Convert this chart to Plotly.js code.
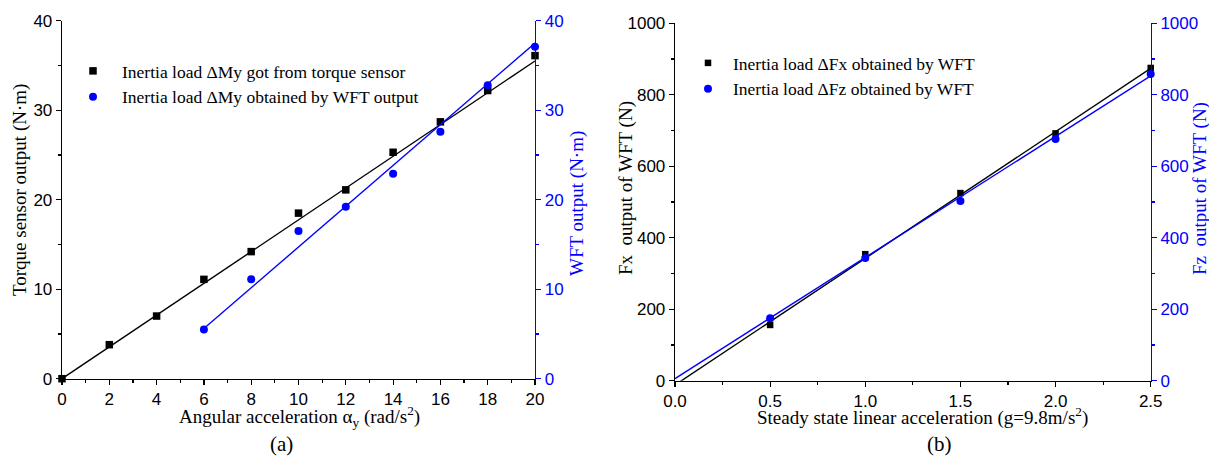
<!DOCTYPE html>
<html>
<head>
<meta charset="utf-8">
<script src="https://cdn.plot.ly/plotly-3.0.1.min.js"></script>
<style>html,body{margin:0;padding:0;background:#fff;}#chart{width:1209px;height:457px;}</style>
</head>
<body>
<div id="chart"></div>
<script>
// ---- (a) data ----
const accelA = [0, 2, 4, 6, 8, 10, 12, 14, 16, 18, 20];
const torqueSensorMy = [0, 3.8, 7.0, 11.1, 14.2, 18.5, 21.1, 25.3, 28.7, 32.2, 36.1];
const accelWFT = [6, 8, 10, 12, 14, 16, 18, 20];
const wftMy = [5.5, 11.1, 16.5, 19.2, 22.9, 27.6, 32.8, 37.1];
const fitTorqueX = [0, 20];
const fitTorqueY = [0, 35.5];
const fitWftX = [6, 20];
const fitWftY = [5.6, 37.5];

// ---- (b) data ----
const accelB = [0.5, 1.0, 1.5, 2.0, 2.5];
const fxWFT = [156, 354, 525, 692, 875];
const fzWFT = [175, 343, 503, 676, 858];
const fitFxX = [0, 2.5];
const fitFxY = [-12, 874];
const fitFzX = [0, 2.5];
const fitFzY = [6, 853];

// ---- labels ----
const legendA = ["Inertia load \u0394My got from torque sensor", "Inertia load \u0394My obtained by WFT output"];
const legendB = ["Inertia load \u0394Fx obtained by WFT", "Inertia load \u0394Fz obtained by WFT"];

const BLUE = 'rgb(0,0,255)';
const SANS = 'Liberation Sans, Arial, sans-serif';
const SERIF = 'Liberation Serif, Times New Roman, serif';
const W = 1209, H = 457;
const px = v => v / W;
const py = v => (H - v) / H;

const traces = [
  {x: fitTorqueX, y: fitTorqueY, xaxis: 'x', yaxis: 'y', mode: 'lines', line: {color: '#000', width: 1.4}, showlegend: false, hoverinfo: 'skip'},
  {x: fitWftX, y: fitWftY, xaxis: 'x', yaxis: 'y2', mode: 'lines', line: {color: BLUE, width: 1.4}, showlegend: false, hoverinfo: 'skip'},
  {x: accelA, y: torqueSensorMy, xaxis: 'x', yaxis: 'y', mode: 'markers', name: legendA[0], legend: 'legend',
   marker: {symbol: 'square', size: 7.5, color: '#000'}, cliponaxis: false},
  {x: accelWFT, y: wftMy, xaxis: 'x', yaxis: 'y2', mode: 'markers', name: legendA[1], legend: 'legend',
   marker: {symbol: 'circle', size: 8, color: BLUE}, cliponaxis: false},

  {x: fitFxX, y: fitFxY, xaxis: 'x2', yaxis: 'y3', mode: 'lines', line: {color: '#000', width: 1.4}, showlegend: false, hoverinfo: 'skip'},
  {x: fitFzX, y: fitFzY, xaxis: 'x2', yaxis: 'y4', mode: 'lines', line: {color: BLUE, width: 1.4}, showlegend: false, hoverinfo: 'skip'},
  {x: accelB, y: fxWFT, xaxis: 'x2', yaxis: 'y3', mode: 'markers', name: legendB[0], legend: 'legend2',
   marker: {symbol: 'square', size: 6.5, color: '#000'}, cliponaxis: false},
  {x: accelB, y: fzWFT, xaxis: 'x2', yaxis: 'y4', mode: 'markers', name: legendB[1], legend: 'legend2',
   marker: {symbol: 'circle', size: 8, color: BLUE}, cliponaxis: false}
];

const tickFont = {family: SANS, size: 17, color: '#000'};
const blueTickFont = {family: SANS, size: 17, color: BLUE};

function baseAxis(extra) {
  return Object.assign({
    showgrid: false, zeroline: false, showline: true, linecolor: '#000', linewidth: 1.3,
    ticks: 'outside', ticklen: 5, tickwidth: 1.2, tickcolor: '#000',
    tickfont: tickFont, fixedrange: true
  }, extra);
}

const domA = [px(62), px(535)];
const domAy = [py(378.7), py(20.7)];
const domB = [px(675), px(1150.7)];
const domBy = [py(380.7), py(23.3)];
const TF = 19;

const layout = {
  width: W, height: H,
  margin: {l: 0, r: 0, t: 0, b: 0},
  paper_bgcolor: '#fff', plot_bgcolor: '#fff',
  font: {family: SERIF, color: '#000'},
  xaxis: baseAxis({domain: domA, anchor: 'y', range: [0, 20], dtick: 2, tick0: 0,
    minor: {ticks: 'outside', ticklen: 3, dtick: 1, tickcolor: '#000', tickwidth: 1.2}}),
  yaxis: baseAxis({domain: domAy, anchor: 'x', range: [0, 40], dtick: 10, tick0: 0,
    minor: {ticks: 'outside', ticklen: 3, dtick: 5, tickcolor: '#000', tickwidth: 1.2}}),
  yaxis2: baseAxis({overlaying: 'y', anchor: 'x', side: 'right', range: [0, 40], dtick: 10, tick0: 0,
    linecolor: BLUE, tickcolor: BLUE, tickfont: blueTickFont,
    minor: {ticks: 'outside', ticklen: 3, dtick: 5, tickcolor: BLUE, tickwidth: 1.2}}),
  xaxis3: baseAxis({overlaying: 'x', anchor: 'y', side: 'top', range: [0, 20], dtick: 2, tick0: 0,
    ticks: 'inside', ticklen: 6, showticklabels: false,
    minor: {ticks: 'inside', ticklen: 5, dtick: 1, tickcolor: '#000', tickwidth: 1.2}}),

  xaxis2: baseAxis({domain: domB, anchor: 'y3', range: [0, 2.5], dtick: 0.5, tick0: 0, tickformat: '.1f',
    minor: {ticks: 'outside', ticklen: 3, dtick: 0.25, tickcolor: '#000', tickwidth: 1.2}}),
  yaxis3: baseAxis({domain: domBy, anchor: 'x2', range: [0, 1000], dtick: 200, tick0: 0,
    minor: {ticks: 'outside', ticklen: 3, dtick: 100, tickcolor: '#000', tickwidth: 1.2}}),
  yaxis4: baseAxis({overlaying: 'y3', anchor: 'x2', side: 'right', range: [0, 1000], dtick: 200, tick0: 0,
    linecolor: BLUE, tickcolor: BLUE, tickfont: blueTickFont,
    minor: {ticks: 'outside', ticklen: 3, dtick: 100, tickcolor: BLUE, tickwidth: 1.2}}),
  xaxis4: baseAxis({overlaying: 'x2', anchor: 'y3', side: 'top', range: [0, 2.5], dtick: 0.5, tick0: 0,
    ticks: 'inside', ticklen: 6, showticklabels: false,
    minor: {ticks: 'inside', ticklen: 4, dtick: 0.25, tickcolor: '#000', tickwidth: 1.2}}),

  legend: {x: px(64), y: py(53), xanchor: 'left', yanchor: 'top', bgcolor: 'rgba(0,0,0,0)',
    font: {family: SERIF, size: 17.5, color: '#000'}, itemwidth: 48, tracegroupgap: 0},
  legend2: {x: px(683), y: py(45), xanchor: 'left', yanchor: 'top', bgcolor: 'rgba(0,0,0,0)',
    font: {family: SERIF, size: 17.5, color: '#000'}, itemwidth: 40, tracegroupgap: 0},

  annotations: [
    {text: 'Torque sensor output (N\u00b7m)', xref: 'paper', yref: 'paper', x: px(20), y: py(190), textangle: -90,
     showarrow: false, font: {family: SERIF, size: TF, color: '#000'}, xanchor: 'center', yanchor: 'middle'},
    {text: 'WFT output (N\u00b7m)', xref: 'paper', yref: 'paper', x: px(577), y: py(204), textangle: -90,
     showarrow: false, font: {family: SERIF, size: TF, color: BLUE}, xanchor: 'center', yanchor: 'middle'},
    {text: 'Angular acceleration \u03b1<sub>y</sub> (rad/s<sup>2</sup>)', xref: 'paper', yref: 'paper', x: px(299), y: py(416),
     showarrow: false, font: {family: SERIF, size: TF, color: '#000'}, xanchor: 'center', yanchor: 'middle'},
    {text: '(a)', xref: 'paper', yref: 'paper', x: px(281), y: py(444),
     showarrow: false, font: {family: SERIF, size: 21, color: '#000'}, xanchor: 'center', yanchor: 'middle'},
    {text: 'Fx\u00a0\u00a0output of WFT (N)', xref: 'paper', yref: 'paper', x: px(626), y: py(188), textangle: -90,
     showarrow: false, font: {family: SERIF, size: TF, color: '#000'}, xanchor: 'center', yanchor: 'middle'},
    {text: 'Fz\u00a0\u00a0output of WFT (N)', xref: 'paper', yref: 'paper', x: px(1200), y: py(189), textangle: -90,
     showarrow: false, font: {family: SERIF, size: TF, color: BLUE}, xanchor: 'center', yanchor: 'middle'},
    {text: 'Steady state linear acceleration (g=9.8m/s<sup>2</sup>)', xref: 'paper', yref: 'paper', x: px(922), y: py(416),
     showarrow: false, font: {family: SERIF, size: TF, color: '#000'}, xanchor: 'center', yanchor: 'middle'},
    {text: '(b)', xref: 'paper', yref: 'paper', x: px(939), y: py(444),
     showarrow: false, font: {family: SERIF, size: 21, color: '#000'}, xanchor: 'center', yanchor: 'middle'}
  ]
};

Plotly.newPlot('chart', traces, layout, {displayModeBar: false, staticPlot: true});
</script>
</body>
</html>
